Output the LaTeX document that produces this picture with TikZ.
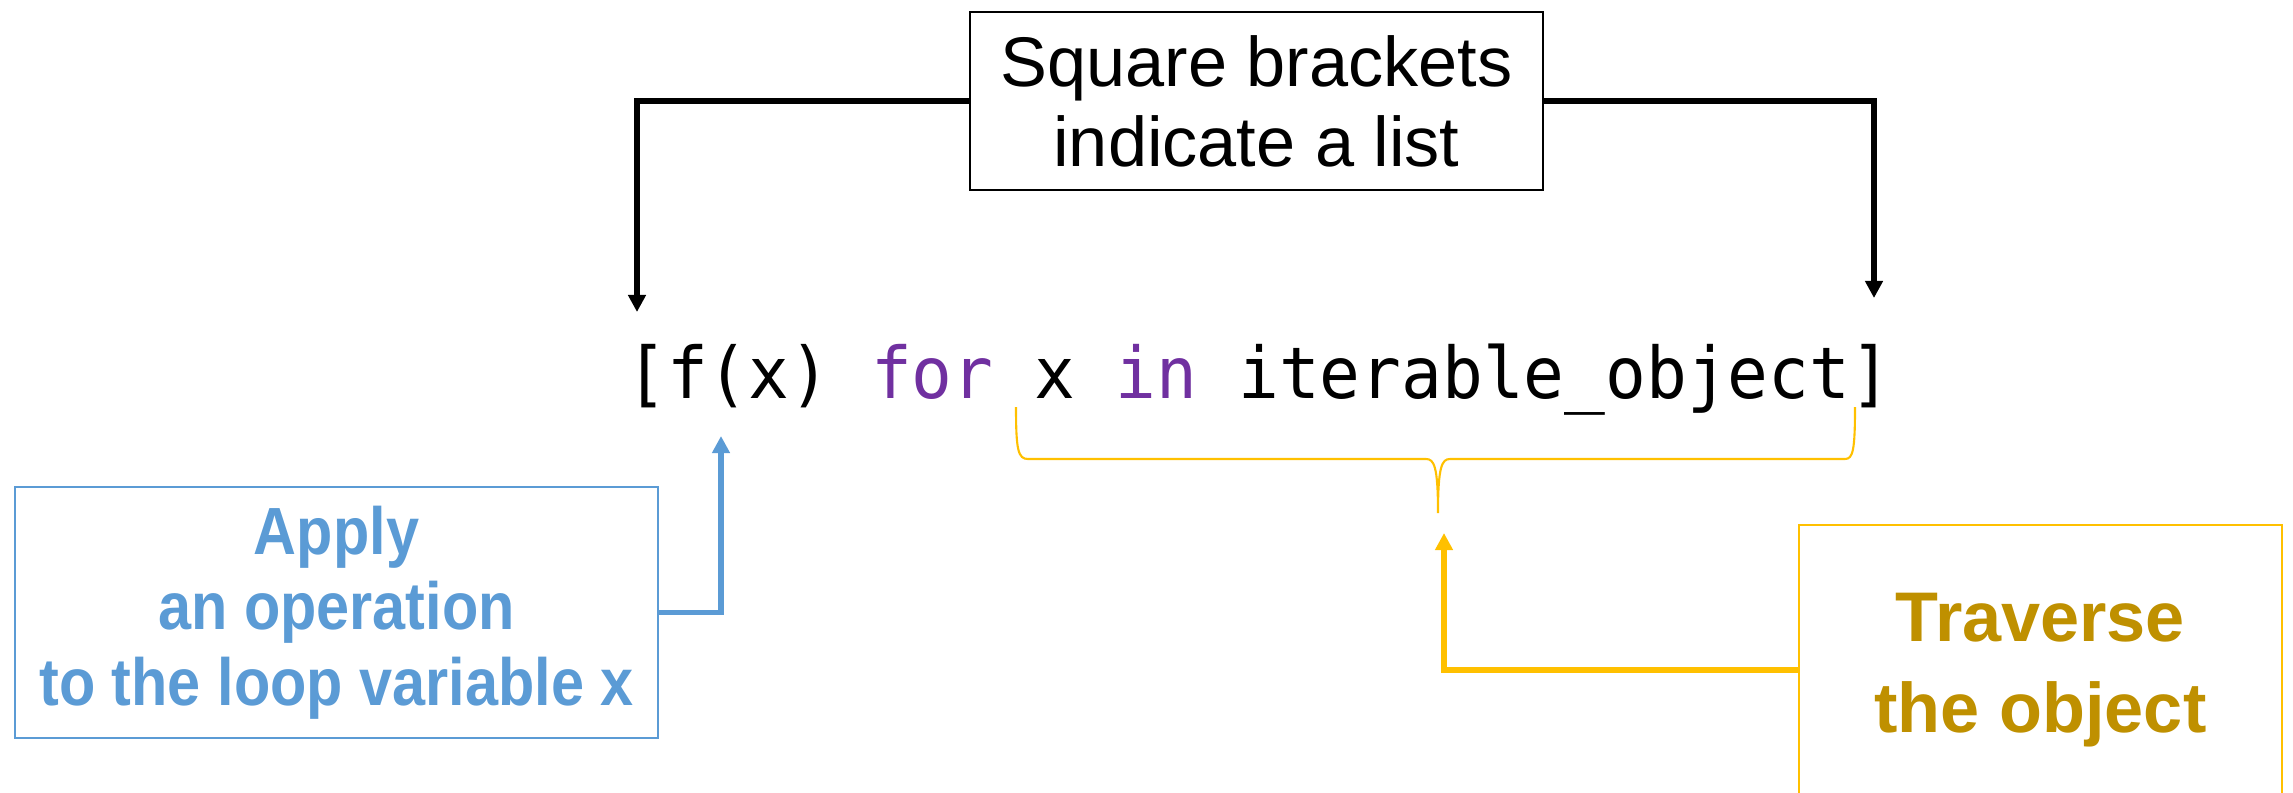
\documentclass[tikz,border=0pt]{standalone}
\usepackage{fontspec}
\usepackage{xcolor}
\usetikzlibrary{arrows.meta}
\setmainfont{Liberation Sans}
\newfontfamily\codefont[FakeStretch=0.95]{DejaVu Sans Mono}
\newfontfamily\handfont{Liberation Sans}
\definecolor{boxblue}{HTML}{5B9BD5}
\definecolor{lineyellow}{HTML}{FFC000}
\definecolor{textgold}{HTML}{BF9000}
\definecolor{kwpurple}{HTML}{7030A0}

\begin{document}
\begin{tikzpicture}[x=0.02cm,y=0.02cm,
  note/.style={draw,rectangle,inner sep=0pt,align=center},
  tip/.style={-{Triangle[length=9.7pt,width=9.7pt]},line width=3.4pt}]
  \useasboundingbox (0,0) rectangle (2293,-792);
  \node[note,line width=1.4pt,minimum width=11.46cm,minimum height=3.56cm,font=\handfont\fontsize{40}{45.5}\selectfont] (brk) at (1256.5,-101) {Square brackets\\indicate a list};
  \node[anchor=base west,inner sep=0pt,font=\codefont\fontsize{40.6}{48}\selectfont] (code) at (626,-398) {[f(x) \textcolor{kwpurple}{for} x \textcolor{kwpurple}{in} iterable\_object]};
  \node[note,draw=boxblue,text=boxblue,line width=1.4pt,minimum width=12.86cm,minimum height=5.02cm,font=\bfseries\addfontfeatures{FakeStretch=0.89}\fontsize{38}{43}\selectfont] (apply) at (336.5,-612.5) {Apply\\an operation\\to the loop variable x};
  \node[note,draw=lineyellow,text=textgold,line width=1.4pt,minimum width=9.66cm,minimum height=5.8cm,font=\bfseries\fontsize{40}{52}\selectfont] (trav) at (2040.5,-670) {Traverse\\the object};
  \coordinate (lt) at (637,-312);
  \coordinate (rt) at (1874,-298);
  \coordinate (ft) at (721,-436);
  \coordinate (bt) at (1444,-533);
  \draw[tip] (brk.west) -| (lt);
  \draw[tip] (brk.east) -| (rt);
  \draw[tip,boxblue] (apply.east) -| (ft);
  \draw[tip,lineyellow] (trav.west) -| (bt);
  % brace under the loop part
  \draw[lineyellow,line width=1.2pt] (1016,-407) .. controls (1016,-450) and (1018,-459) .. (1028,-459) -- (1426,-459)
    .. controls (1434,-459) and (1438,-466) .. (1438,-513) .. controls (1438,-466) and (1442,-459) .. (1450,-459)
    -- (1845,-459) .. controls (1853,-459) and (1855,-450) .. (1855,-407);
\end{tikzpicture}
\end{document}
